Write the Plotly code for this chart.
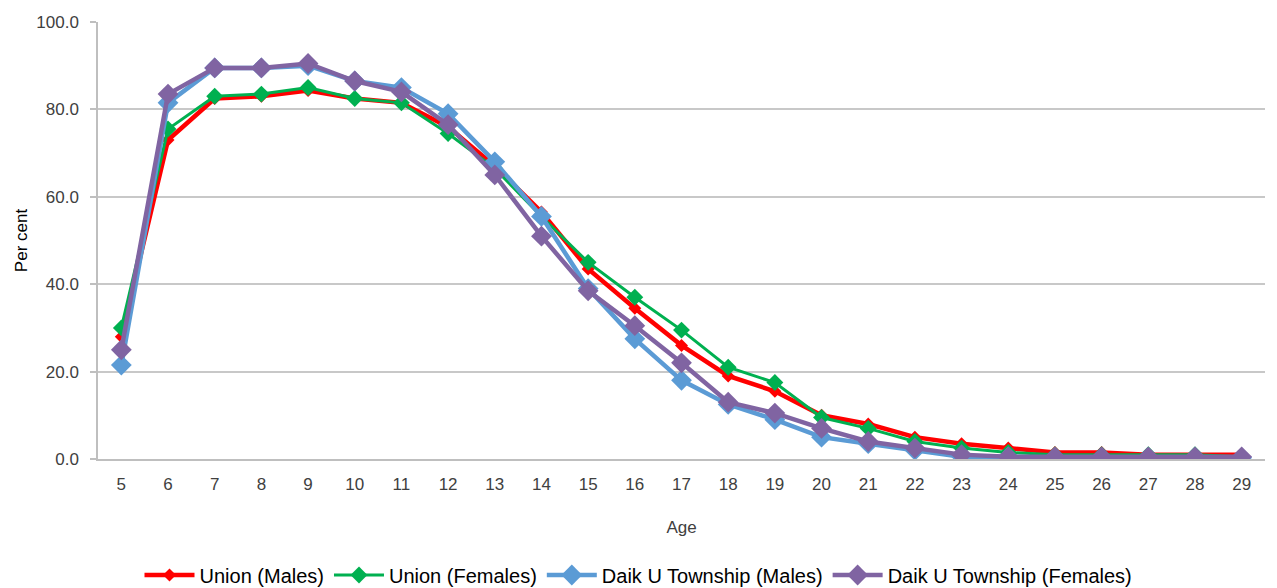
import plotly.graph_objects as go

ages = list(range(5, 30))

union_males = [28, 73, 82.5, 83, 84.3, 82.5, 81.5, 76, 67, 56.5, 43.5, 34.5, 26, 19,
               15.5, 10, 8, 5, 3.5, 2.5, 1.5, 1.5, 1, 1, 1]
union_females = [30, 75.5, 83, 83.5, 85, 82.5, 81.5, 74.5, 66.5, 55.5, 45, 37, 29.5, 21,
                 17.5, 9.5, 7, 4, 2.5, 1.5, 1, 1, 1, 1, 0.5]
daik_males = [21.5, 81.5, 89.5, 89.5, 90, 86.5, 85, 79, 68, 55.5, 39, 27.5, 18, 12.5,
              9, 5, 3.5, 2, 0.5, 0.5, 0.3, 0.3, 0.3, 0.3, 0.3]
daik_females = [25, 83.5, 89.5, 89.5, 90.5, 86.5, 84, 76.5, 65, 51, 38.5, 30.5, 22, 13,
                10.5, 7, 4, 2.5, 1, 0.5, 0.5, 0.5, 0.5, 0.5, 0.5]

series = [
    ("Union (Males)", union_males, "#ff0000", 4.5, 10),
    ("Union (Females)", union_females, "#00b050", 3, 13),
    ("Daik U Township (Males)", daik_males, "#5b9bd5", 4.5, 16),
    ("Daik U Township (Females)", daik_females, "#8064a2", 4.5, 16),
]

fig = go.Figure()
for name, vals, color, lw, ms in series:
    fig.add_trace(go.Scatter(
        x=ages, y=vals, name=name, mode="lines+markers",
        line=dict(color=color, width=lw),
        marker=dict(symbol="diamond", size=ms, color=color),
    ))

font = "Liberation Sans, Arial, sans-serif"
fig.update_layout(
    width=1277, height=588,
    margin=dict(l=98, r=12, t=22, b=129, autoexpand=False),
    paper_bgcolor="white", plot_bgcolor="white",
    font=dict(family=font, size=17, color="#404040"),
    showlegend=True,
    legend=dict(orientation="h", x=0.5, xanchor="center", xref="container",
                y=1 - 575 / 588, yanchor="middle", yref="container",
                font=dict(size=20, color="#000000"), itemwidth=50, tracegroupgap=0),
    xaxis=dict(
        range=[4.5, 29.5], tickmode="array", tickvals=ages, ticktext=[str(a) for a in ages],
        showgrid=False, showline=True, linecolor="#bfbfbf", linewidth=1.5,
        ticks="outside", ticklen=9, tickcolor="rgba(0,0,0,0)", zeroline=False,
        automargin=False,
        title=dict(text="Age", standoff=28, font=dict(size=17, color="#404040")),
        tickfont=dict(size=17, color="#404040"),
    ),
    yaxis=dict(
        range=[0, 100], tickmode="array", tickvals=[0, 20, 40, 60, 80, 100],
        ticktext=["0.0", "20.0", "40.0", "60.0", "80.0", "100.0"],
        showgrid=True, gridcolor="#c8c8c8", gridwidth=1.5,
        showline=True, linecolor="#bfbfbf", linewidth=1.5,
        ticks="outside", ticklen=6, tickcolor="#bfbfbf", tickwidth=1.5,
        ticklabelstandoff=8, zeroline=False, automargin=False,
        title=dict(text="Per cent", standoff=4, font=dict(size=17, color="#000000")),
        tickfont=dict(size=17, color="#404040"),
    ),
)

fig.write_html("out.html")
